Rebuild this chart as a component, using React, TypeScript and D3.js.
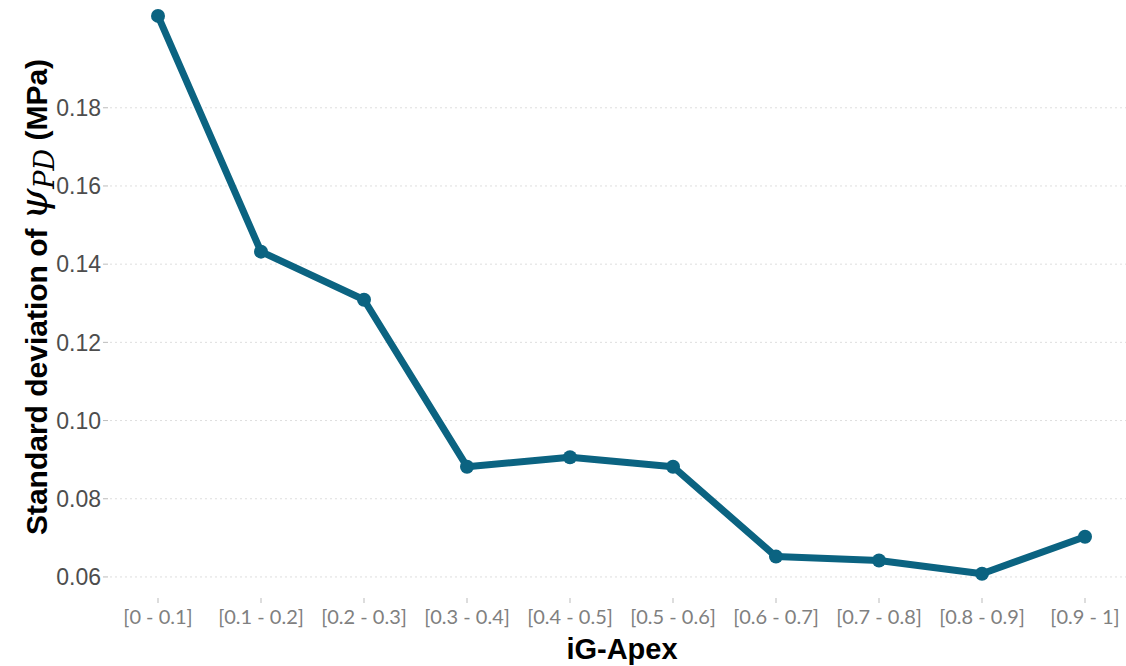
import React, { useEffect } from "react";
import * as d3 from "d3";

const categories = ["[0 - 0.1]", "[0.1 - 0.2]", "[0.2 - 0.3]", "[0.3 - 0.4]", "[0.4 - 0.5]", "[0.5 - 0.6]", "[0.6 - 0.7]", "[0.7 - 0.8]", "[0.8 - 0.9]", "[0.9 - 1]"];
const values = [0.2035, 0.1432, 0.1309, 0.0882, 0.0906, 0.0882, 0.0652, 0.0642, 0.0608, 0.0703];
const yTicks = [0.06, 0.08, 0.10, 0.12, 0.14, 0.16, 0.18];

const W = 1126;
const H = 666;
const COLOR = "#0b6381";

export default function App() {
  useEffect(() => {
    document.body.style.margin = "0";
  }, []);

  const x = d3.scalePoint<string>().domain(categories).range([158, 1085]);
  const y = d3.scaleLinear().domain([0.055, 0.207]).range([596.5, 2.2]);
  const line = d3
    .line<number>()
    .x((_, i) => x(categories[i]) as number)
    .y((d) => y(d));

  return (
    <svg width={W} height={H} style={{ display: "block", background: "#fff" }}>
      {yTicks.map((t) => (
        <g key={t}>
          <line x1={110} x2={W} y1={y(t)} y2={y(t)} stroke="#dedede" strokeWidth={1} strokeDasharray="2,3" />
          <line x1={103} x2={108} y1={y(t)} y2={y(t)} stroke="#bbb" strokeWidth={1} />
          <text x={101} y={y(t)} dy="0.36em" textAnchor="end" fontFamily="Liberation Sans, Arial, sans-serif" fontSize={23} fill="#4d4d4d">
            {d3.format(".2f")(t)}
          </text>
        </g>
      ))}
      {categories.map((c) => (
        <g key={c}>
          <line x1={x(c)} x2={x(c)} y1={598} y2={603} stroke="#bbb" strokeWidth={1} />
          <text x={x(c)} y={624} textAnchor="middle" fontFamily="Lato, sans-serif" fontSize={20} fill="#808080">
            {c}
          </text>
        </g>
      ))}
      <path d={line(values) || ""} fill="none" stroke={COLOR} strokeWidth={7} strokeLinejoin="round" strokeLinecap="round" />
      {values.map((v, i) => (
        <circle key={i} cx={x(categories[i])} cy={y(v)} r={7} fill={COLOR} />
      ))}
      <text x={622} y={659} textAnchor="middle" fontFamily="Liberation Sans, Arial, sans-serif" fontWeight="bold" fontSize={29} fill="#000">
        iG-Apex
      </text>
      <text
        transform="translate(47,297) rotate(-90)"
        textAnchor="middle"
        fontFamily="Liberation Sans, Arial, sans-serif"
        fontWeight="bold"
        fontSize={30}
        fill="#000"
      >
        <tspan>Standard deviation of </tspan>
        <tspan fontFamily="DejaVu Serif, serif" fontStyle="italic" fontWeight="normal" fontSize={40}>ψ</tspan>
        <tspan fontFamily="DejaVu Serif, serif" fontStyle="italic" fontWeight="normal" fontSize={27} dy={7}>PD</tspan>
        <tspan fontWeight="bold" dy={-7}> (MPa)</tspan>
      </text>
    </svg>
  );
}
